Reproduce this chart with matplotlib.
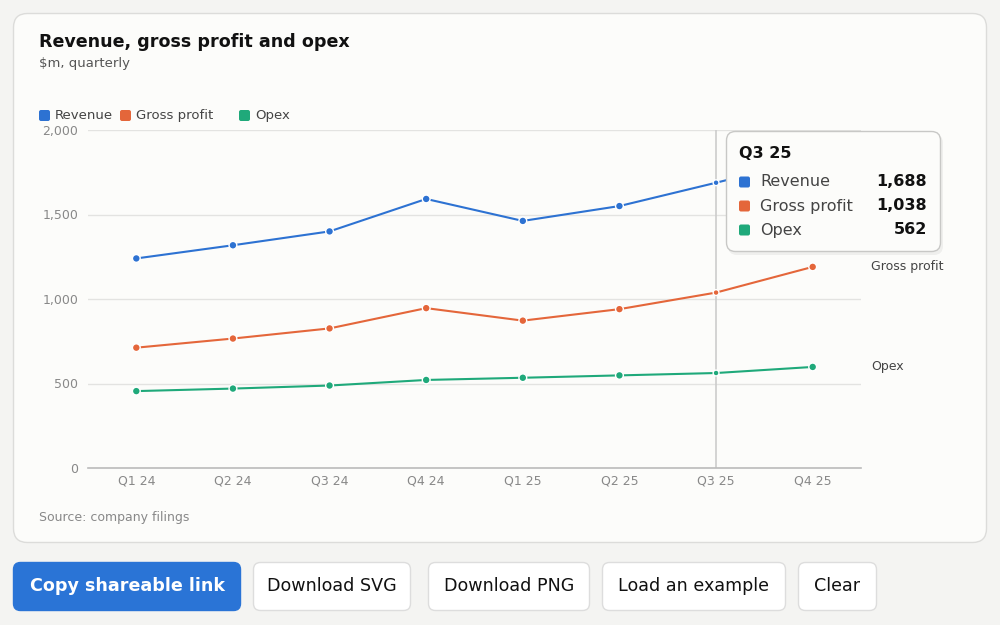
import matplotlib
matplotlib.use("Agg")
import matplotlib.pyplot as plt
from matplotlib.patches import FancyBboxPatch
from matplotlib.ticker import FuncFormatter

quarters = ["Q1 24", "Q2 24", "Q3 24", "Q4 24", "Q1 25", "Q2 25", "Q3 25", "Q4 25"]
revenue = [1240, 1318, 1400, 1592, 1462, 1550, 1688, 1830]
gross_profit = [712, 766, 826, 946, 872, 940, 1038, 1190]
opex = [455, 470, 488, 521, 534, 548, 562, 598]

series_names = ["Revenue", "Gross profit", "Opex"]
colors = ["#2d72d2", "#e4663a", "#1fa97a"]
hover_idx = 6

W, H = 1000, 625


def px_rect(x0, y0, x1, y1):
    # pixel box (top-left origin) -> figure fraction [l, b, w, h]
    return [x0 / W, 1 - y1 / H, (x1 - x0) / W, (y1 - y0) / H]


fig = plt.figure(figsize=(10, 6.25), dpi=100)
fig.patch.set_facecolor("#f4f4f2")

# background layer in pixel coords
bg = fig.add_axes([0, 0, 1, 1], zorder=0)
bg.set_xlim(0, W)
bg.set_ylim(H, 0)
bg.axis("off")
bg.add_patch(FancyBboxPatch((13.5, 13.5), 973, 529, boxstyle="round,pad=0,rounding_size=14",
                            facecolor="#fcfcfa", edgecolor="#dcdcda", linewidth=1))

bg.text(39, 42, "Revenue, gross profit and opex", fontsize=12.6, fontweight="bold",
        color="#111111", va="center")
bg.text(39, 64, "$m, quarterly", fontsize=9.5, color="#555555", va="center")

# legend row
leg_x = [39, 120, 239]
for name, c, lx in zip(series_names, colors, leg_x):
    bg.add_patch(FancyBboxPatch((lx, 110), 11, 11, boxstyle="round,pad=0,rounding_size=2",
                                facecolor=c, edgecolor="none"))
    bg.text(lx + 16, 115.5, name, fontsize=9.5, color="#444444", va="center")

bg.text(39, 517, "Source: company filings", fontsize=9, color="#888888", va="center")

# buttons
buttons = [("Copy shareable link", 13, 241), ("Download SVG", 253, 411),
           ("Download PNG", 428, 590), ("Load an example", 602, 786), ("Clear", 798, 877)]
for i, (label, x0, x1) in enumerate(buttons):
    primary = i == 0
    bg.add_patch(FancyBboxPatch((x0 + 0.5, 562.5), x1 - x0 - 1, 48,
                                boxstyle="round,pad=0,rounding_size=7",
                                facecolor="#2a74d6" if primary else "#ffffff",
                                edgecolor="#2a74d6" if primary else "#dddddd", linewidth=1))
    bg.text((x0 + x1) / 2, 586, label, fontsize=12.6, ha="center", va="center",
            color="white" if primary else "#111111",
            fontweight="bold" if primary else "normal")

# chart
ax = fig.add_axes(px_rect(88, 130, 861, 468), zorder=2)
ax.set_facecolor("none")
x = list(range(len(quarters)))
for name, vals, c in zip(series_names, [revenue, gross_profit, opex], colors):
    ax.plot(x, vals, color=c, linewidth=1.5, zorder=3)
    ax.scatter(x, vals, s=[(4.2 if i == hover_idx else 5.6) ** 2 for i in x], color=c,
               edgecolor="white", linewidth=1.0, zorder=4)
    ax.annotate(name, (x[-1], vals[-1]), xytext=(42, 0), textcoords="offset points",
                fontsize=9, color="#444444", va="center", annotation_clip=False)

ax.set_xlim(-0.5, len(quarters) - 0.5)
ax.set_ylim(0, 2000)
ax.set_yticks([0, 500, 1000, 1500, 2000])
ax.yaxis.set_major_formatter(FuncFormatter(lambda v, p: f"{int(v):,}"))
ax.set_xticks(x)
ax.set_xticklabels(quarters)
ax.grid(axis="y", color="#e3e3e1", linewidth=1)
ax.set_axisbelow(True)
for s in ["top", "right", "left"]:
    ax.spines[s].set_visible(False)
ax.spines["bottom"].set_color("#bbbbbb")
ax.spines["bottom"].set_linewidth(1.2)
ax.tick_params(length=0, labelsize=9, colors="#888888")
ax.tick_params(axis="x", pad=5)
ax.tick_params(axis="y", pad=7)
ax.axvline(hover_idx, color="#cccccc", linewidth=1.2, zorder=2)

# tooltip
tip = fig.add_axes([0, 0, 1, 1], zorder=5)
tip.set_xlim(0, W)
tip.set_ylim(H, 0)
tip.axis("off")
tip.add_patch(FancyBboxPatch((728, 134), 215, 121, boxstyle="round,pad=0,rounding_size=9",
                             facecolor="#000000", alpha=0.05, edgecolor="none"))
tip.add_patch(FancyBboxPatch((726.5, 131.5), 214, 120, boxstyle="round,pad=0,rounding_size=9",
                             facecolor="#fcfcfa", edgecolor="#c8c8c6", linewidth=1))
tip.text(739, 153, quarters[hover_idx], fontsize=11.5, fontweight="bold", color="#111111",
         va="center")
for k, (name, vals, c) in enumerate(zip(series_names, [revenue, gross_profit, opex], colors)):
    yy = 182 + k * 24
    tip.add_patch(FancyBboxPatch((739, yy - 5.5), 11, 11, boxstyle="round,pad=0,rounding_size=2",
                                 facecolor=c, edgecolor="none"))
    tip.text(760, yy, name, fontsize=11.5, color="#444444", va="center")
    tip.text(927, yy, f"{vals[hover_idx]:,}", fontsize=11.5, fontweight="bold",
             color="#111111", va="center", ha="right")

fig.savefig("out.png", dpi=100, facecolor=fig.get_facecolor())
